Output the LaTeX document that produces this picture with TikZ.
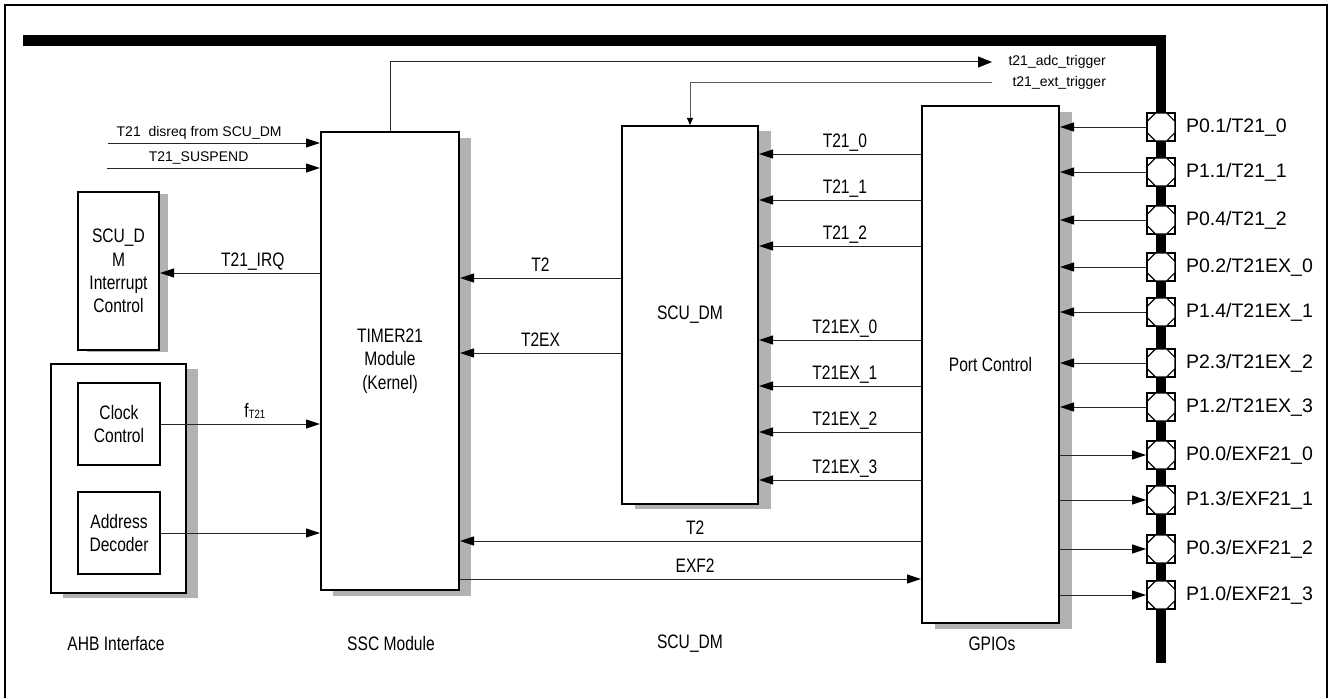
\documentclass[tikz,border=0pt]{standalone}
\usepackage{fontspec}
\setmainfont{Liberation Sans}
\newfontfamily\narrowfont{Liberation Sans}[FakeStretch=0.8]
\usepackage{tikz}
\usetikzlibrary{positioning,shapes.geometric,shadows,arrows.meta}

\begin{document}
\begin{tikzpicture}[
    x=1pt, y=-1pt,
    every node/.style={font=\narrowfont\fontsize{19.5}{23.4}\selectfont},
    block/.style={rectangle, draw, line width=2pt, fill=white, align=center, inner sep=0pt},
    shade/.style 2 args={drop shadow={shadow xshift=#1, shadow yshift=-#2, fill=black!30, opacity=1}},
    sig/.style={-{Triangle[length=14pt,width=9pt,color=black]}, line width=1pt, draw=black!85},
    lbl/.style={above=6pt, inner sep=0pt, text depth=0pt},
    small/.style={font=\fontsize{14}{16}\selectfont},
    pinbox/.style={rectangle, draw, line width=1.6pt, fill=white, minimum size=28pt, inner sep=0pt},
    pinoct/.style={regular polygon, regular polygon sides=8, draw, line width=1.2pt, fill=white, minimum size=30pt, inner sep=0pt},
    pinlbl/.style={font=\fontsize{19.5}{23.4}\selectfont, inner sep=0pt}
]
\useasboundingbox (0,0) rectangle (1329,698);

% frame and bus
\draw[line width=1.5pt] (5,698) -- (5,5) -- (1327,5) -- (1327,698);
\draw[line width=10.5pt, line join=miter] (23,40.5) -- (1161,40.5) -- (1161,663);

% blocks
\node[block, shade={9pt}{2pt}, minimum width=81pt, minimum height=158pt] (irq) at (118.5,271) {SCU\_D\\M\\Interrupt\\Control};
\node[block, shade={12pt}{5pt}, minimum width=135pt, minimum height=229pt] (ahb) at (118.5,478.5) {};
\node[block, minimum width=82pt, minimum height=82pt] (clk) at (119,424) {Clock\\Control};
\node[block, minimum width=82pt, minimum height=82pt] (adr) at (119,533) {Address\\Decoder};
\node[block, shade={12pt}{6pt}, minimum width=138pt, minimum height=458pt] (tmr) at (390,361) {TIMER21\\Module\\(Kernel)};
\node[block, shade={13pt}{5pt}, minimum width=136pt, minimum height=378pt] (scu) at (690,315) {SCU\_DM};
\node[block, shade={13pt}{6pt}, minimum width=137pt, minimum height=517pt] (port) at (990.5,364.5) {Port Control};

% bottom titles
\node (ahbttl) at (116,644) {AHB Interface};
\node (sscttl) at (391,644) {SSC Module};
\node (scuttl) at (690,644) {SCU\_DM};
\node (gpiottl) at (992,644) {GPIOs};

% pins
\foreach \i/\py/\txt in {1/127/{P0.1/T21\_0}, 2/172/{P1.1/T21\_1}, 3/220/{P0.4/T21\_2},
    4/267/{P0.2/T21EX\_0}, 5/312/{P1.4/T21EX\_1}, 6/363/{P2.3/T21EX\_2}, 7/407/{P1.2/T21EX\_3},
    8/455/{P0.0/EXF21\_0}, 9/500/{P1.3/EXF21\_1}, 10/549/{P0.3/EXF21\_2}, 11/595/{P1.0/EXF21\_3}}{
  \node[pinbox] (p\i) at (1161,\py) {};
  \node[pinoct] (q\i) at (p\i) {};
  \node[pinlbl, right=10pt of p\i] (l\i) {\txt};
}
\foreach \i in {1,...,7}
  \draw[sig] (p\i.west) -- (p\i.west -| port.east);
\foreach \i in {8,...,11}
  \draw[sig] (p\i.west -| port.east) -- (p\i.west);

% port control to SCU_DM
\foreach \py/\txt in {154/T21\_0, 200/T21\_1, 246/T21\_2, 340/T21EX\_0, 386/T21EX\_1, 432/T21EX\_2, 480/T21EX\_3}
  \draw[sig] (port.west |- 0,\py) -- node[lbl, pos=0.47] {\txt} (scu.east |- 0,\py);

% timer inputs and outputs
\coordinate (disin) at (108,143);
\coordinate (susin) at (107,168);
\draw[sig] (disin) -- node[lbl, small, pos=0.43] {T21\ \ disreq from SCU\_DM} (disin -| tmr.west);
\draw[sig] (susin) -- node[lbl, small, pos=0.43] {T21\_SUSPEND} (susin -| tmr.west);
\draw[sig] (tmr.west |- 0,273) -- node[lbl, pos=0.42] {T21\_IRQ} (irq.east |- 0,273);
\draw[sig] (clk.east) -- node[lbl, pos=0.59] {f\raisebox{-1pt}{\fontsize{12}{12}\selectfont T21}} (clk.east -| tmr.west);
\draw[sig] (adr.east) -- (adr.east -| tmr.west);
\draw[sig] (scu.west |- 0,278) -- node[lbl] {T2} (tmr.east |- 0,278);
\draw[sig] (scu.west |- 0,353) -- node[lbl] {T2EX} (tmr.east |- 0,353);
\draw[sig] (port.west |- 0,541) -- node[lbl, pos=0.49] {T2} (tmr.east |- 0,541);
\draw[sig] (tmr.east |- 0,579) -- node[lbl, pos=0.51] {EXF2} (port.west |- 0,579);

% triggers
\coordinate (adcout) at (992,62);
\coordinate (extin) at (992,83);
\draw[line width=1pt, draw=black!85, {Triangle[length=14pt,width=11pt,color=black]}-] (adcout) -| (tmr.north);
\node[small, anchor=west] (adclbl) at (1005,62) {t21\_adc\_trigger};
\draw[line width=1pt, draw=black!65, -{Triangle[length=7pt,width=6pt,color=black]}] (extin) -| (scu.north);
\node[small, anchor=west] (extlbl) at (1009,83) {t21\_ext\_trigger};

\end{tikzpicture}
\end{document}
